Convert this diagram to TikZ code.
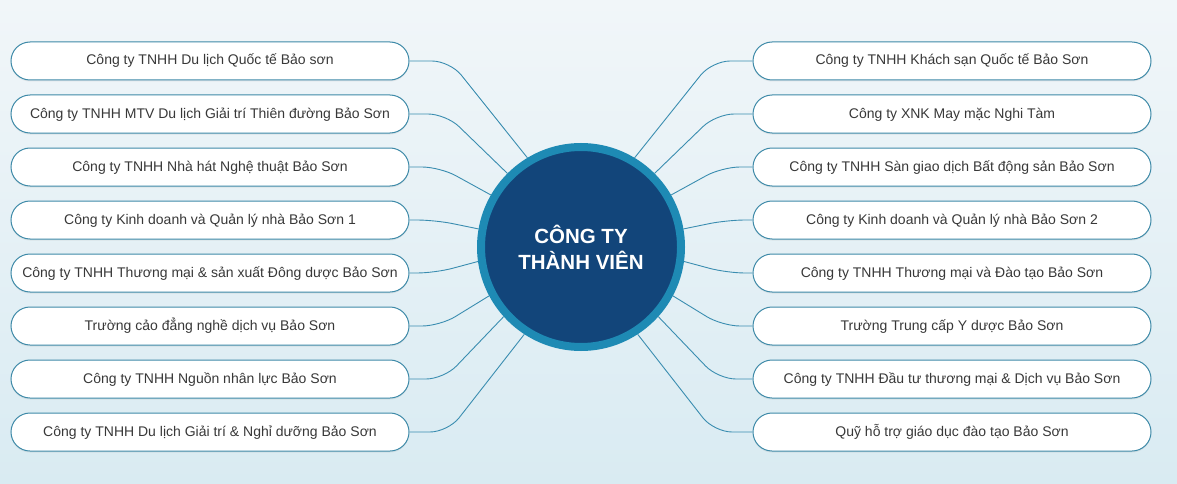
\documentclass[tikz,border=0pt]{standalone}
\usepackage{fontspec}
\setmainfont{Liberation Sans}
\usetikzlibrary{shadows}
\definecolor{ringc}{HTML}{1E8AB4}
\definecolor{darkc}{HTML}{12457A}
\definecolor{boxline}{HTML}{3E8AA8}
\definecolor{linkc}{HTML}{3A8DB0}
\definecolor{txtc}{HTML}{383838}
\definecolor{bgtop}{HTML}{F1F6F9}
\definecolor{bgbot}{HTML}{D9EBF2}
\begin{document}
\begin{tikzpicture}[x=1pt,y=-1pt,
  box/.style={draw=boxline, line width=1pt, fill=white, rounded corners=19pt,
    minimum width=398pt, minimum height=38pt, inner sep=0pt,
    text height=10.5pt, text depth=2.5pt,
    font=\fontsize{14}{17}\selectfont, text=txtc,
    drop shadow={opacity=0.12, shadow xshift=0pt, shadow yshift=-1.5pt}},
  link/.style={draw=linkc, line width=0.9pt, rounded corners=18pt},
  hub/.style={circle, minimum size=200pt, fill=darkc, draw=ringc, line width=8pt,
    inner sep=0pt, align=center, text=white,
    font=\bfseries\fontsize{20.5}{26}\selectfont}]
\useasboundingbox (0,0) rectangle (1177,484);
\fill[top color=bgtop, bottom color=bgbot] (0,0) rectangle (1177,484);

\node[hub] (c) at (581,247) {CÔNG TY\\THÀNH VIÊN};

\node[box] (l1) at (210,61)  {Công ty TNHH Du lịch Quốc tế Bảo sơn};
\node[box] (l2) at (210,114) {Công ty TNHH MTV Du lịch Giải trí Thiên đường Bảo Sơn};
\node[box] (l3) at (210,167) {Công ty TNHH Nhà hát Nghệ thuật Bảo Sơn};
\node[box] (l4) at (210,220) {Công ty Kinh doanh và Quản lý nhà Bảo Sơn 1};
\node[box] (l5) at (210,273) {Công ty TNHH Thương mại \& sản xuất Đông dược Bảo Sơn};
\node[box] (l6) at (210,326) {Trường cảo đẳng nghề dịch vụ Bảo Sơn};
\node[box] (l7) at (210,379) {Công ty TNHH Nguồn nhân lực Bảo Sơn};
\node[box] (l8) at (210,432) {Công ty TNHH Du lịch Giải trí \& Nghỉ dưỡng Bảo Sơn};

\node[box] (r1) at (952,61)  {Công ty TNHH Khách sạn Quốc tế Bảo Sơn};
\node[box] (r2) at (952,114) {Công ty XNK May mặc Nghi Tàm};
\node[box] (r3) at (952,167) {Công ty TNHH Sàn giao dịch Bất động sản Bảo Sơn};
\node[box] (r4) at (952,220) {Công ty Kinh doanh và Quản lý nhà Bảo Sơn 2};
\node[box] (r5) at (952,273) {Công ty TNHH Thương mại và Đào tạo Bảo Sơn};
\node[box] (r6) at (952,326) {Trường Trung cấp Y dược Bảo Sơn};
\node[box] (r7) at (952,379) {Công ty TNHH Đầu tư thương mại \& Dịch vụ Bảo Sơn};
\node[box] (r8) at (952,432) {Quỹ hỗ trợ giáo dục đào tạo Bảo Sơn};

\foreach \i/\y/\k/\a in {1/61/450/121, 2/114/446/135, 3/167/440/150, 4/220/435/170,
    5/273/435/188, 6/326/440/208, 7/379/444/222, 8/432/448/237}{
  \coordinate (lk\i) at (\k,\y);
  \draw[link] (l\i.east) -- (lk\i) -- (c.\a);
}
\foreach \i/\y/\k/\a in {1/61/712/59, 2/114/716/45, 3/167/722/30, 4/220/727/10,
    5/273/727/-8, 6/326/722/-28, 7/379/718/-42, 8/432/714/-57}{
  \coordinate (rk\i) at (\k,\y);
  \draw[link] (r\i.west) -- (rk\i) -- (c.\a);
}
\end{tikzpicture}
\end{document}
